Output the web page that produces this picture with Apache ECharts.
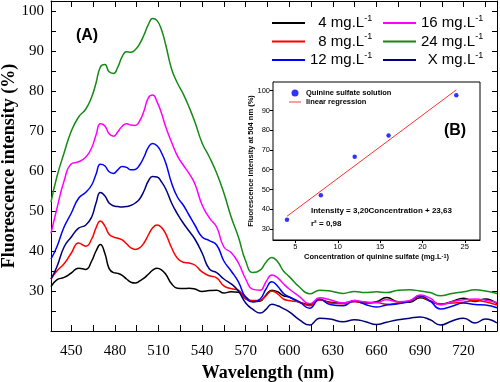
<!DOCTYPE html>
<html><head><meta charset="utf-8">
<script src="https://cdn.jsdelivr.net/npm/echarts@6/dist/echarts.min.js"></script>
<style>html,body{margin:0;padding:0;background:#fff}#c{width:500px;height:382px}</style>
</head><body><div id="c"></div>
<script>
// ---- data ----
const wavelengths = [436,440,445,450,455,460,464,467,470,473,476,479,482,485,488,491,494,497,500,503,506,509,512,515,519,523,527,531,535,540,545,550,555,560,565,570,575,580,584,588,592,596,600,
                     607,614,621,628,637,645,652,660,667,675,683,690,697,704,712,720,728,735,743];
const conc4  = [31.1,32.8,33.4,34.5,35.7,35.4,37.5,40.0,41.6,39.5,35.6,34.6,34.4,33.9,33.0,32.2,32.0,32.5,33.2,34.2,35.2,35.7,35.3,34.2,31.8,30.7,30.6,30.7,30.5,29.9,30.1,30.2,29.5,29.8,29.7,28.5,27.3,27.5,29.0,30.2,29.8,28.8,28.5,
                27.2,26.6,27.8,27.2,27.0,27.4,27.0,27.3,28.4,27.3,27.2,28.3,27.5,26.7,27.4,28.2,27.4,28.0,26.8];
const conc8  = [33.0,35.0,36.8,39.5,42.0,41.2,43.0,45.8,47.5,46.3,44.2,43.5,43.2,42.8,41.8,40.8,40.4,40.8,42.0,44.0,45.8,46.5,45.9,44.3,40.8,38.2,37.2,37.0,36.5,34.8,33.8,33.3,31.3,30.6,30.2,28.0,27.6,27.7,28.8,30.0,29.3,28.0,27.6,
                27.2,26.3,27.8,27.0,26.8,27.4,26.9,27.1,26.7,27.0,27.4,28.6,27.5,26.8,27.0,27.2,27.6,27.3,26.5];
const conc12 = [38.0,41.0,46.0,49.5,53.2,54.7,56.5,59.2,61.7,61.3,59.8,59.4,60.3,61.1,60.9,60.3,60.4,61.5,63.5,65.9,66.9,66.3,64.6,62.0,57.0,53.5,51.5,49.0,46.5,43.5,42.6,41.5,37.5,35.0,32.3,28.4,27.3,28.0,30.5,32.3,31.2,29.4,28.5,
                27.3,25.7,28.0,26.6,26.3,27.6,26.7,26.0,26.5,26.8,27.5,28.8,27.5,25.5,26.2,27.0,26.6,26.5,25.8];
const conc16 = [44.4,50.5,57.5,61.8,62.3,63.5,65.8,69.0,71.8,71.3,69.3,68.7,69.8,71.2,71.8,71.5,71.4,72.5,75.0,78.3,79.0,77.3,74.5,71.0,67.2,63.8,61.5,59.4,56.8,51.5,48.3,46.0,41.0,39.6,37.0,33.0,30.4,30.2,32.3,34.0,33.3,31.8,30.5,
                28.6,26.8,28.3,27.8,27.0,27.6,27.3,27.1,27.8,27.3,27.6,29.0,28.2,26.5,27.3,27.8,28.0,27.7,27.1];
const conc24 = [52.2,58.5,64.5,70.0,73.5,75.5,78.5,82.0,86.0,86.6,84.8,84.4,86.0,88.6,89.8,89.7,90.3,91.8,94.0,96.6,98.1,97.6,95.4,91.5,85.5,82.0,79.3,76.0,72.3,67.0,63.5,59.5,54.5,48.5,43.5,37.5,34.6,35.2,37.2,38.4,37.3,35.0,33.6,
                31.0,29.3,30.2,30.0,29.4,29.9,29.6,29.8,29.6,30.2,30.3,30.0,29.6,28.8,29.4,29.8,30.3,30.0,29.4];
const concX  = [33.0,36.0,41.0,43.5,45.7,46.5,48.5,52.0,54.6,53.8,52.0,51.3,51.1,51.0,51.1,51.4,52.0,53.0,55.0,57.5,58.6,58.5,57.3,55.5,52.0,49.3,47.0,45.0,43.0,39.5,35.5,34.6,33.0,31.8,30.0,27.0,25.4,24.5,25.4,26.7,26.3,25.6,24.8,
                22.8,21.5,23.2,23.0,22.3,22.8,22.4,21.6,22.2,22.8,23.2,23.5,22.8,21.5,22.5,23.2,22.0,23.0,22.0];
const seriesNames = ['4 mg.L-1','8 mg.L-1','12 mg.L-1','16 mg.L-1','24 mg.L-1','X mg.L-1'];
const xTickLabels = [450,480,510,540,570,600,630,660,690,720];
const yTickLabels = [30,40,50,60,70,80,90,100];
// inset (B)
const insetConc = [4,8,12,16,24];
const insetIntensity = [34.7,47.0,66.5,77.3,97.7];
const regConc = [4,24];
const regIntensity = [36.4,100.4];
const insetXTicks = [5,10,15,20,25];
const insetYTicks = [30,40,50,60,70,80,90,100];

// ---- styles ----
const colors = {'4 mg.L-1':'#000000','8 mg.L-1':'#ff0000','12 mg.L-1':'#0000ff','16 mg.L-1':'#ff00ff','24 mg.L-1':'#168a16','X mg.L-1':'#000080'};
const seriesValues = [conc4, conc8, conc12, conc16, conc24, concX];
const serif = '"Liberation Serif","Times New Roman",serif';
const sans = '"Liberation Sans",Arial,sans-serif';

const xMinor = [];
for (let v = 450; v <= 735; v += 15) xMinor.push(v);
const yMinor = [];
for (let v = 25; v <= 100; v += 5) yMinor.push(v);

const lineSeries = seriesNames.map((nm, i) => ({
  name: nm, type: 'line', xAxisIndex: 0, yAxisIndex: 0,
  data: wavelengths.map((w, j) => [w, seriesValues[i][j]]),
  smooth: 0.5, showSymbol: false, symbol: 'none',
  lineStyle: {color: colors[nm], width: 1.5}, itemStyle: {color: colors[nm]},
  z: 3
}));

const legendRich = {
  n: {fontFamily: sans, fontSize: 15, color: '#000', lineHeight: 18},
  np: {fontFamily: sans, fontSize: 15, color: '#000', lineHeight: 18, padding: [0,0,0,8.3]},
  nx: {fontFamily: sans, fontSize: 15, color: '#000', lineHeight: 18, padding: [0,0,0,6.7]},
  s: {fontFamily: sans, fontSize: 9, color: '#000', lineHeight: 8, verticalAlign: 'top'}
};
function legendFmt(name) {
  const base = name.replace('-1', '');
  const lead = base.split(' ')[0];
  const st = lead === 'X' ? 'nx' : (lead.length === 1 ? 'np' : 'n');
  return '{' + st + '|' + base + '}{s|-1}';
}

const axisBase = {
  axisLine: {show: true, onZero: false, lineStyle: {color: '#000', width: 1}},
  splitLine: {show: false},
  nameMoveOverlap: false
};

const option = {
  animation: false,
  backgroundColor: '#fff',
  grid: [
    {left: 51, top: 1, right: 3, bottom: 51, containLabel: false, outerBoundsMode: 'none'},
    {left: 273, top: 82, width: 207, height: 158, show: true, backgroundColor: '#fff', borderColor: '#000', borderWidth: 1, z: 5, containLabel: false, outerBoundsMode: 'none'}
  ],
  xAxis: [
    Object.assign({}, axisBase, {
      type: 'value', gridIndex: 0, min: 436, max: 743, position: 'bottom',
      axisTick: {show: true, inside: true, length: 6, customValues: xMinor, lineStyle: {color: '#000'}},
      axisLabel: {customValues: xTickLabels, margin: 13, fontFamily: serif, fontSize: 15, color: '#000'},
      name: 'Wavelength (nm)', nameLocation: 'middle', nameGap: 33,
      nameTextStyle: {fontFamily: serif, fontSize: 18, fontWeight: 'bold', color: '#000', padding: [0, 12, 0, 0]}
    }),
    Object.assign({}, axisBase, {
      type: 'value', gridIndex: 0, min: 436, max: 743, position: 'top',
      axisTick: {show: true, inside: true, length: 6, customValues: xMinor, lineStyle: {color: '#000'}},
      axisLabel: {show: false}
    }),
    Object.assign({}, axisBase, {
      type: 'value', gridIndex: 1, min: 2.35, max: 26.8, position: 'bottom',
      axisTick: {show: true, inside: false, length: 3, customValues: insetXTicks, lineStyle: {color: '#000'}},
      axisLabel: {customValues: insetXTicks, margin: 3, fontFamily: sans, fontSize: 7.5, color: '#000'},
      name: 'Concentration of quinine sulfate (mg.L{s|-1})', nameLocation: 'middle', nameGap: 13,
      nameTextStyle: {fontFamily: sans, fontSize: 7.5, fontWeight: 'bold', color: '#000',
        rich: {s: {fontFamily: sans, fontSize: 5.5, fontWeight: 'bold', verticalAlign: 'top', lineHeight: 5, color: '#000'}}}
    })
  ],
  yAxis: [
    Object.assign({}, axisBase, {
      type: 'value', gridIndex: 0, min: 20, max: 102.5, position: 'left',
      axisTick: {show: true, inside: true, length: 5, customValues: yMinor, lineStyle: {color: '#000'}},
      axisLabel: {customValues: yTickLabels, margin: 7, fontFamily: serif, fontSize: 15, color: '#000'},
      name: 'Fluorescence intensity (%)', nameLocation: 'middle', nameGap: 33,
      nameTextStyle: {fontFamily: serif, fontSize: 18, fontWeight: 'bold', color: '#000'}
    }),
    Object.assign({}, axisBase, {
      type: 'value', gridIndex: 0, min: 20, max: 102.5, position: 'right',
      axisTick: {show: true, inside: true, length: 5, customValues: yMinor, lineStyle: {color: '#000'}},
      axisLabel: {show: false}
    }),
    Object.assign({}, axisBase, {
      type: 'value', gridIndex: 1, min: 24.4, max: 104.4, position: 'left',
      axisTick: {show: true, inside: false, length: 3, customValues: insetYTicks, lineStyle: {color: '#000'}},
      axisLabel: {customValues: insetYTicks, margin: 3, fontFamily: sans, fontSize: 7.5, color: '#000'},
      name: 'Fluorescence intensity at 504 nm (%)', nameLocation: 'middle', nameGap: 18,
      nameTextStyle: {fontFamily: sans, fontSize: 7.5, fontWeight: 'bold', color: '#000'}
    })
  ],
  legend: [
    {orient: 'vertical', left: 272, top: 14, padding: 0, itemGap: 2, itemWidth: 33, itemHeight: 2, icon: 'rect',
     data: [seriesNames[0], seriesNames[1], seriesNames[2]], formatter: legendFmt, textStyle: {rich: legendRich}},
    {orient: 'vertical', left: 383, top: 14, padding: 0, itemGap: 2, itemWidth: 33, itemHeight: 2, icon: 'rect',
     data: [seriesNames[3], seriesNames[4], seriesNames[5]], formatter: legendFmt, textStyle: {rich: legendRich}},
    {orient: 'vertical', left: 289, top: 89, padding: 0, itemGap: 1, itemWidth: 12, itemHeight: 7,
     data: [{name: 'Quinine sulfate solution', icon: 'circle'}, {name: 'linear regression', icon: 'path://M0,0H40V3.2H0Z'}],
     textStyle: {fontFamily: sans, fontSize: 7.5, fontWeight: 'bold', color: '#000'}, z: 10}
  ],
  series: lineSeries.concat([
    {name: 'linear regression', type: 'line', xAxisIndex: 2, yAxisIndex: 2,
     data: regConc.map((c, i) => [c, regIntensity[i]]), symbol: 'none', showSymbol: false,
     lineStyle: {color: '#ff3030', width: 1}, itemStyle: {color: '#ff3030'}, z: 6},
    {name: 'Quinine sulfate solution', type: 'scatter', xAxisIndex: 2, yAxisIndex: 2,
     data: insetConc.map((c, i) => [c, insetIntensity[i]]), symbol: 'circle', symbolSize: 4.5,
     itemStyle: {color: '#0000ff'}, z: 7}
  ]),
  graphic: [
    {type: 'text', x: 87, y: 36, z: 20, style: {text: '(A)', font: 'bold 16px ' + sans, fill: '#000', align: 'center', verticalAlign: 'middle'}},
    {type: 'text', x: 455, y: 131, z: 20, style: {text: '(B)', font: 'bold 16px ' + sans, fill: '#000', align: 'center', verticalAlign: 'middle'}},
    {type: 'text', x: 311, y: 211, z: 20, style: {text: 'Intensity = 3,20Concentration + 23,63', font: 'bold 8px ' + sans, fill: '#000', align: 'left', verticalAlign: 'middle'}},
    {type: 'text', x: 311, y: 224, z: 20, style: {text: 'r² = 0,98', font: 'bold 8px ' + sans, fill: '#000', align: 'left', verticalAlign: 'middle'}}
  ]
};

const chart = echarts.init(document.getElementById('c'), null, {renderer: 'canvas'});
chart.setOption(option);
</script>
</body></html>
